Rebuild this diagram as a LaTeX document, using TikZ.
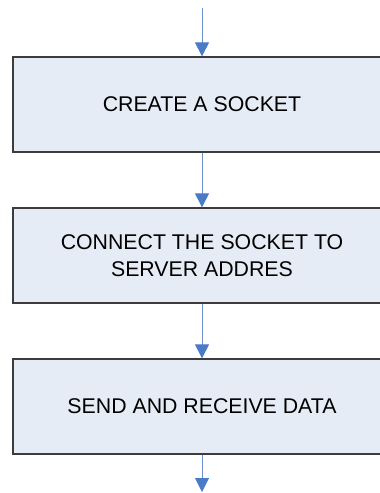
\documentclass[tikz,border=0pt]{standalone}
\usepackage{fontspec}
\setmainfont{Liberation Sans}
\usetikzlibrary{arrows.meta}
\definecolor{boxfill}{HTML}{E6ECF6}
\definecolor{boxline}{HTML}{3C3C3C}
\definecolor{flowblue}{HTML}{4A7BC6}
\definecolor{flowline}{HTML}{6A8FCC}
\begin{document}
\begin{tikzpicture}[x=1pt,y=-1pt,
  stepbox/.style={draw=boxline, line width=1.3pt, fill=boxfill,
    minimum width=378pt, minimum height=95pt, inner sep=0pt,
    align=center, font=\fontsize{21.3}{26.5}\selectfont},
  flow/.style={draw=flowline, line width=1pt,
    -{Triangle[length=14pt,width=14pt,color=flowblue]}}]
  \useasboundingbox (0,0) rectangle (380,493);
  \clip (0,0) rectangle (380,493);
  \coordinate (start) at (202,8);
  \coordinate (finish) at (202,492);
  \node[stepbox] (create) at (202,104.5) {CREATE A SOCKET};
  \node[stepbox] (connect) at (202,255.5) {CONNECT THE SOCKET TO\\SERVER ADDRES};
  \node[stepbox] (send) at (202,406.5) {SEND AND RECEIVE DATA};
  \draw[flow] (start) -- (create.north);
  \draw[flow] (create.south) -- (connect.north);
  \draw[flow] (connect.south) -- (send.north);
  \draw[flow] (send.south) -- (finish);
\end{tikzpicture}
\end{document}
